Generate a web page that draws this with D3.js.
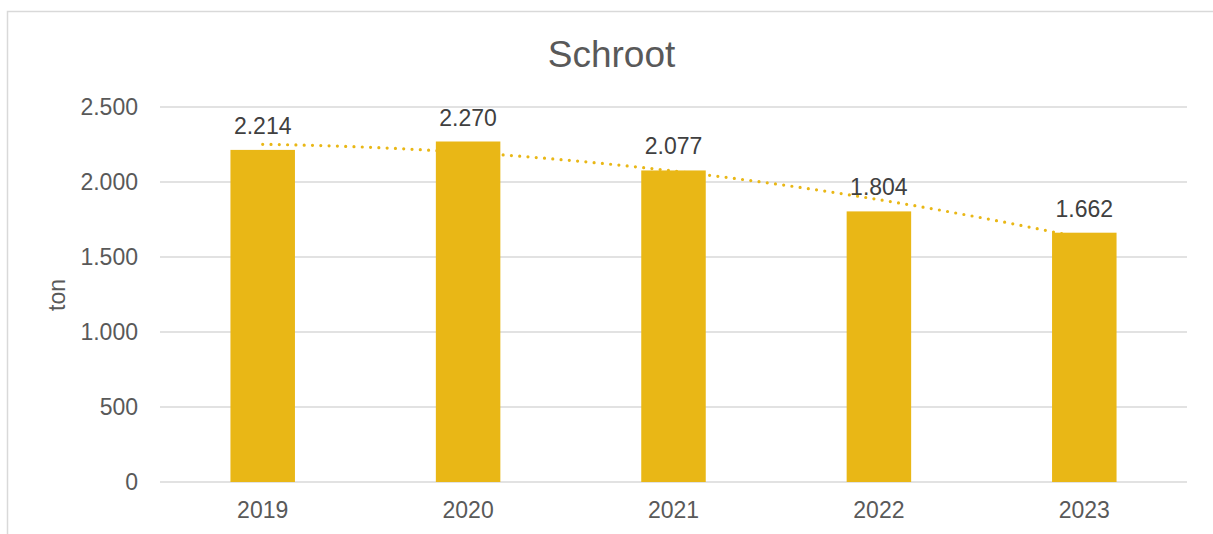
<!DOCTYPE html>
<html><head><meta charset="utf-8">
<script src="https://cdn.jsdelivr.net/npm/d3@7"></script>
<style>
html,body{margin:0;padding:0;background:#fff;}
svg{display:block;font-family:"Liberation Sans",Arial,sans-serif;}
</style></head>
<body>
<svg id="c" width="1213" height="534"></svg>
<script>
const categories = ["2019","2020","2021","2022","2023"];
const values = [2214,2270,2077,1804,1662];
const yTicks = [0,500,1000,1500,2000,2500];
const title = "Schroot";
const yLabel = "ton";

const fmt = v => d3.format(",")(v).replace(/,/g,".");
const m={left:160,right:1187,top:107,bottom:482};
const gold="#E9B716";
const svg=d3.select("#c");

svg.append("rect").attr("x",7.5).attr("y",11.5).attr("width",1215).attr("height",540)
  .attr("fill","#fff").attr("stroke","#D9D9D9").attr("stroke-width",1.5);

const x=d3.scaleBand().domain(categories).range([m.left,m.right]).paddingInner(0.686).paddingOuter(0.343);
const y=d3.scaleLinear().domain([0,2500]).range([m.bottom,m.top]);

svg.append("g").selectAll("line").data(yTicks).join("line")
  .attr("x1",m.left).attr("x2",m.right)
  .attr("y1",d=>y(d)).attr("y2",d=>y(d))
  .attr("stroke","#D9D9D9").attr("stroke-width",1.5);

const ya=svg.append("g").attr("transform",`translate(${m.left},0)`)
  .call(d3.axisLeft(y).tickValues(yTicks).tickFormat(fmt).tickSize(0).tickPadding(22));
ya.select(".domain").remove();
ya.selectAll("text").attr("fill","#595959").attr("font-size",23).attr("font-family","Liberation Sans, Arial, sans-serif");

const xa=svg.append("g").attr("transform",`translate(0,${m.bottom})`)
  .call(d3.axisBottom(x).tickSize(0).tickPadding(20));
xa.select(".domain").remove();
xa.selectAll("text").attr("fill","#595959").attr("font-size",23).attr("font-family","Liberation Sans, Arial, sans-serif");

// polynomial (order 2) trendline, least squares from data
const n=values.length;
const ts=values.map((_,i)=>i+1);
function solve3(A,b){
  const M=A.map((r,i)=>[...r,b[i]]);
  for(let i=0;i<3;i++){
    let p=i;for(let k=i+1;k<3;k++)if(Math.abs(M[k][i])>Math.abs(M[p][i]))p=k;
    [M[i],M[p]]=[M[p],M[i]];
    for(let k=0;k<3;k++){if(k===i)continue;const f=M[k][i]/M[i][i];for(let j=i;j<4;j++)M[k][j]-=f*M[i][j];}
  }
  return M.map((r,i)=>r[3]/r[i]);
}
const S=p=>d3.sum(ts,t=>Math.pow(t,p));
const SY=p=>d3.sum(ts,(t,i)=>Math.pow(t,p)*values[i]);
const coef=solve3([[n,S(1),S(2)],[S(1),S(2),S(3)],[S(2),S(3),S(4)]],[SY(0),SY(1),SY(2)]);
const trend=t=>coef[0]+coef[1]*t+coef[2]*t*t;
const cx=i=>x(categories[i])+x.bandwidth()/2;
const pts=d3.range(0,4.0001,0.05).map(u=>{
  const i=Math.min(3,Math.floor(u));const f=u-i;
  return [cx(i)+(cx(i+1)-cx(i))*f, y(trend(u+1))];
});
svg.append("path").attr("d",d3.line()(pts)).attr("fill","none")
  .attr("stroke",gold).attr("stroke-width",3.2).attr("stroke-linecap","round")
  .attr("stroke-dasharray","0 8.3");

svg.append("g").selectAll("rect").data(values).join("rect")
  .attr("x",(d,i)=>x(categories[i])).attr("width",x.bandwidth())
  .attr("y",d=>y(d)).attr("height",d=>y(0)-y(d)).attr("fill",gold);

svg.append("g").selectAll("text").data(values).join("text")
  .attr("x",(d,i)=>cx(i)).attr("y",d=>y(d)-16)
  .attr("text-anchor","middle").attr("fill","#404040").attr("font-size",23)
  .text(fmt);

svg.append("text").attr("x",(m.left+m.right)/2-62).attr("y",67).attr("text-anchor","middle")
  .attr("fill","#595959").attr("font-size",37).text(title);

svg.append("text").attr("transform","translate(65,295) rotate(-90)").attr("text-anchor","middle")
  .attr("fill","#595959").attr("font-size",23).text(yLabel);
</script>
</body></html>
